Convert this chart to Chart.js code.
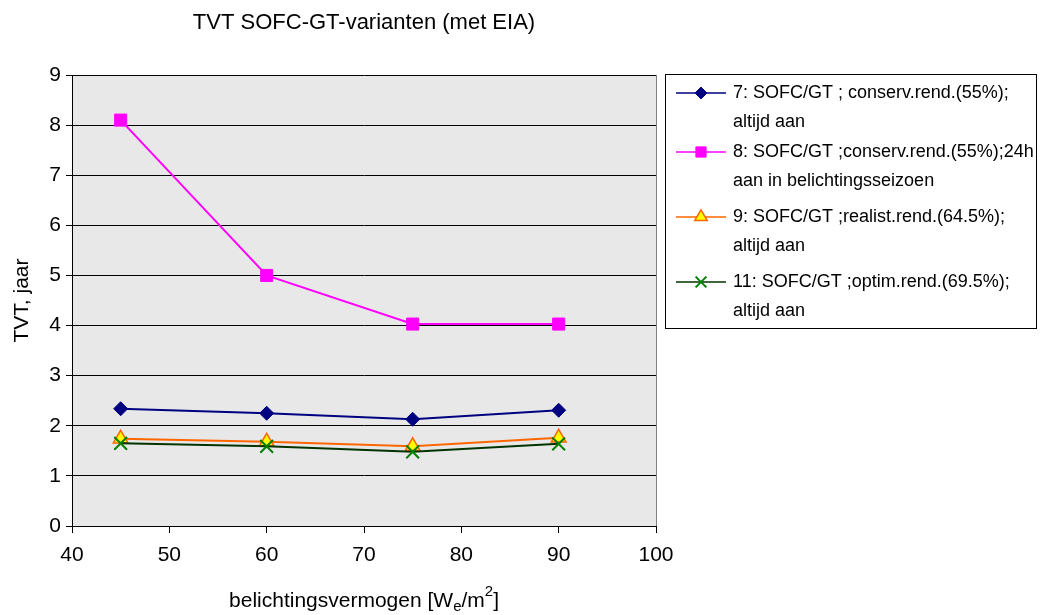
<!DOCTYPE html>
<html>
<head>
<meta charset="utf-8">
<script src="https://cdn.jsdelivr.net/npm/chart.js@4/dist/chart.umd.min.js"></script>
<style>
  html, body { margin:0; padding:0; background:#fff; }
  #wrap { width:1042px; height:615px; position:relative; }
</style>
</head>
<body>
<div id="wrap"><canvas id="chart" width="1042" height="615"></canvas></div>
<script>
const xValues = [45, 60, 75, 90];
const s7 = [2.34, 2.25, 2.13, 2.31];
const s8 = [8.10, 5.00, 4.03, 4.03];
const s9 = [1.74, 1.68, 1.59, 1.76];
const s11 = [1.65, 1.59, 1.48, 1.64];
const labels7 = ['7: SOFC/GT ; conserv.rend.(55%);', 'altijd aan'];
const labels8 = ['8: SOFC/GT ;conserv.rend.(55%);24h', 'aan in belichtingsseizoen'];
const labels9 = ['9: SOFC/GT ;realist.rend.(64.5%);', 'altijd aan'];
const labels11 = ['11: SOFC/GT ;optim.rend.(69.5%);', 'altijd aan'];
const titleText = 'TVT SOFC-GT-varianten (met EIA)';
const yTitle = 'TVT, jaar';

const FONT = '"Liberation Sans", Arial, sans-serif';

function pts(arr) { return xValues.map((x, i) => ({x: x, y: arr[i]})); }

// order: the crosses sit on top of the triangles, like in the original
const datasets = [
  {label: labels7, data: pts(s7), order: 1, borderColor:'#000080', backgroundColor:'#000080', pointStyle:'rectRot', pointRadius:7, borderWidth:2, pointBorderWidth:1},
  {label: labels8, data: pts(s8), order: 2, borderColor:'#ff00ff', backgroundColor:'#ff00ff', pointStyle:'rect', pointRadius:8.5, borderWidth:2, pointBorderWidth:1},
  {label: labels9, data: pts(s9), order: 3, borderColor:'#ff6600', backgroundColor:'#ffff00', pointStyle:'triangle', pointRadius:8.5, borderWidth:2, pointBorderColor:'#ff6600', pointBorderWidth:1.5},
  {label: labels11, data: pts(s11), order: 0, borderColor:'#003300', backgroundColor:'#008000', pointStyle:'crossRot', pointRadius:9, borderWidth:2, pointBorderColor:'#008000', pointBorderWidth:2}
];

// plot background, title, x-axis title with sub/superscripts, legend box
const decor = {
  id: 'decor',
  beforeDraw(chart) {
    const {ctx, chartArea: a} = chart;
    ctx.save();
    ctx.fillStyle = '#e8e8e8';
    ctx.fillRect(a.left, a.top, a.right - a.left, a.bottom - a.top);
    ctx.strokeStyle = '#808080';
    ctx.lineWidth = 1;
    ctx.beginPath();
    ctx.moveTo(a.right + 0.5, a.top);
    ctx.lineTo(a.right + 0.5, a.bottom);
    ctx.stroke();
    ctx.restore();
  },
  afterDraw(chart) {
    const {ctx, chartArea: a} = chart;
    ctx.save();
    ctx.fillStyle = '#000';
    ctx.textBaseline = 'middle';
    // title
    ctx.font = '22px ' + FONT;
    ctx.textAlign = 'center';
    ctx.fillText(titleText, (a.left + a.right) / 2, 23);

    // x axis title
    const parts = [['belichtingsvermogen [W', 0, 21], ['e', 6, 15], ['/m', 0, 21], ['2', -9, 15], [']', 0, 21]];
    let total = 0;
    parts.forEach(p => { ctx.font = p[2] + 'px ' + FONT; total += ctx.measureText(p[0]).width; });
    let x = (a.left + a.right) / 2 - total / 2;
    ctx.textAlign = 'left';
    parts.forEach(p => {
      ctx.font = p[2] + 'px ' + FONT;
      ctx.fillText(p[0], x, 601 + p[1]);
      x += ctx.measureText(p[0]).width;
    });

    // legend
    const lx = 665, ly = 74, lw = 371, lh = 254;
    ctx.strokeStyle = '#000';
    ctx.lineWidth = 1;
    ctx.strokeRect(lx + 0.5, ly + 0.5, lw, lh);
    const rowY = [93, 152, 217, 282];
    ctx.font = '18px ' + FONT;
    chart.data.datasets.forEach((ds, i) => {
      const y = rowY[i];
      ctx.strokeStyle = ds.borderColor;
      ctx.lineWidth = 1.5;
      ctx.beginPath();
      ctx.moveTo(676, y); ctx.lineTo(726, y);
      ctx.stroke();
      ctx.fillStyle = ds.backgroundColor;
      ctx.strokeStyle = ds.pointBorderColor || ds.borderColor;
      ctx.lineWidth = ds.pointBorderWidth;
      Chart.helpers.drawPoint(ctx, {pointStyle: ds.pointStyle, radius: ds.pointRadius * 0.85, rotation: 0, borderWidth: ds.pointBorderWidth}, 701, y);
      ctx.fillStyle = '#000';
      ds.label.forEach((t, j) => ctx.fillText(t, 733, y + j * 29));
    });
    ctx.restore();
  }
};

new Chart(document.getElementById('chart'), {
  type: 'line',
  data: { datasets: datasets },
  plugins: [decor],
  options: {
    responsive: false,
    animation: false,
    layout: { padding: { left: 0, top: 75, right: 386, bottom: 0 } },
    plugins: { legend: { display: false }, tooltip: { enabled: false }, title: { display: false } },
    scales: {
      x: {
        type: 'linear', min: 40, max: 100,
        ticks: { stepSize: 10, color: '#000', font: { size: 21, family: FONT }, padding: 10, maxRotation: 0 },
        grid: { drawOnChartArea: false, color: '#000', tickLength: 7 },
        border: { color: '#000', width: 1 },
        afterFit(s) { s.height = 89; }
      },
      y: {
        min: 0, max: 9,
        ticks: { stepSize: 1, color: '#000', font: { size: 21, family: FONT }, padding: 5 },
        grid: { color: '#000', tickLength: 6 },
        border: { color: '#000', width: 1 },
        title: { display: true, text: yTitle, color: '#000', font: { size: 21, family: FONT }, padding: { top: 10 } },
        afterFit(s) { s.width = 72; }
      }
    }
  }
});
</script>
</body>
</html>
